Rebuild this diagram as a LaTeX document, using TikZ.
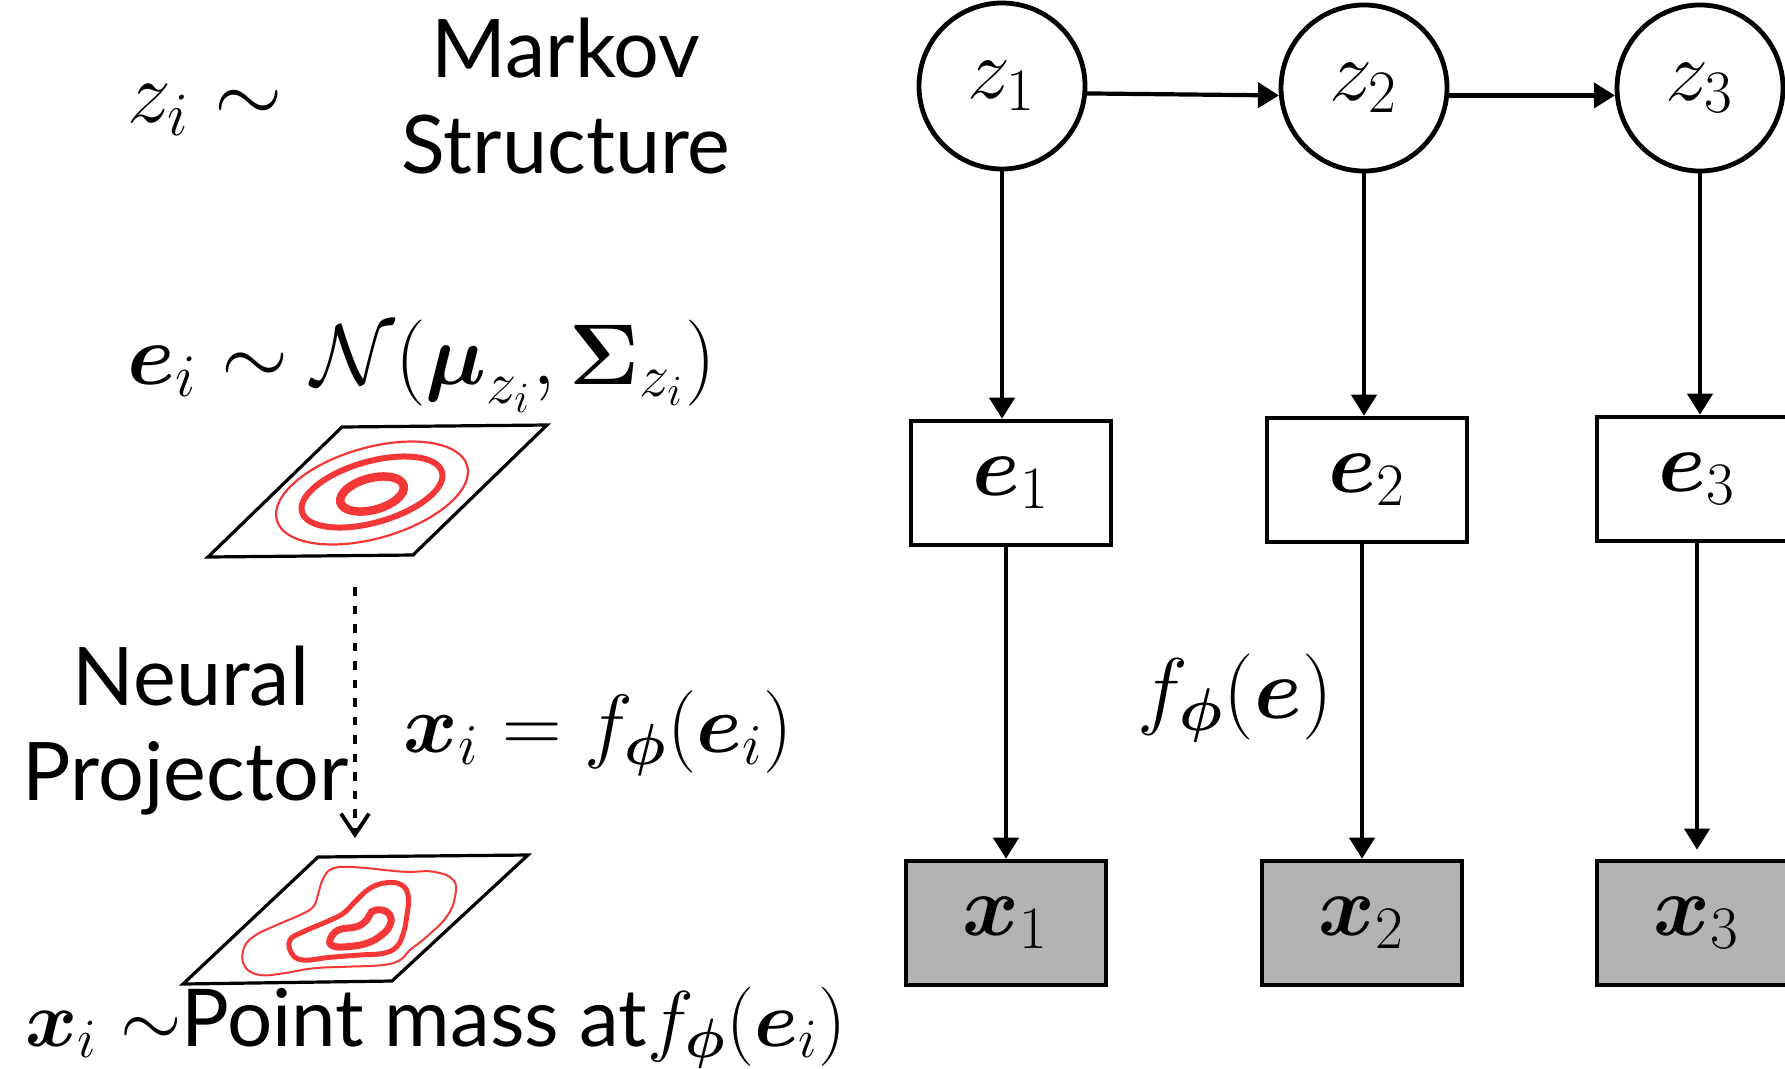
\RequirePackage{fix-cm}
\documentclass[tikz,border=0pt]{standalone}
\usepackage{amsmath}
\usepackage[no-math]{fontspec}
\newfontfamily\gillfont{Lato}
\usetikzlibrary{arrows.meta}

\definecolor{obsgray}{RGB}{179,179,179}
\definecolor{contourred}{RGB}{245,55,55}

\tikzset{
  mathfont/.style={font=\fontsize{24.5}{29}\selectfont},
  latent/.style={circle, draw, line width=0.48mm, minimum size=1.66cm, inner sep=0pt, mathfont},
  embed/.style={rectangle, draw, line width=0.46mm, minimum width=2cm, minimum height=1.24cm, inner sep=0pt, mathfont},
  obs/.style={embed, fill=obsgray},
  arr/.style={line width=0.42mm, -{Triangle[length=2.1mm,width=2.5mm]}},
  plane/.style={line width=0.32mm, line join=miter},
  words/.style={inner sep=0pt, anchor=base, font=\gillfont\fontsize{23}{27}\selectfont},
}

\begin{document}
\begin{tikzpicture}
  \clip (0,0) rectangle (17.85,-10.68);

  %% graphical model
  \node[latent] (z1) at (10.02,-0.86) {$z_1$};
  \node[latent] (z2) at (13.64,-0.88) {$z_2$};
  \node[latent] (z3) at (17.00,-0.88) {$z_3$};

  \node[embed] (e1) at (10.11,-4.83) {$\boldsymbol{e}_1$};
  \node[embed] (e2) at (13.67,-4.80) {$\boldsymbol{e}_2$};
  \node[embed] (e3) at (16.97,-4.79) {$\boldsymbol{e}_3$};

  \node[obs] (x1) at (10.06,-9.23) {$\boldsymbol{x}_1$};
  \node[obs] (x2) at (13.62,-9.23) {$\boldsymbol{x}_2$};
  \node[obs] (x3) at (16.97,-9.23) {$\boldsymbol{x}_3$};

  \draw[arr] (z1.-5) -- (z2.185);
  \draw[arr] (z2.-5) -- (z3.185);
  \foreach \i/\gap in {1/0,2/0,3/0.9} {
    \draw[arr] (z\i) -- (z\i |- e\i.north);
    \draw[arr, shorten >=\gap mm] (e\i.south -| x\i) -- (x\i);
  }

  \node[mathfont, inner sep=0pt, anchor=base west] (flabel) at (11.37,-7.18)
    {$f_{\boldsymbol{\phi}}(\boldsymbol{e})$};

  %% generative story
  \node[font=\fontsize{25}{30}\selectfont, inner sep=0pt, anchor=base west] (zdist) at (1.27,-1.22) {$z_i \sim$};
  \node[words] (markov) at (5.66,-0.77) {Markov};
  \node[words] (structure) at (5.66,-1.73) {Structure};

  \node[mathfont, inner sep=0pt, anchor=base west] (edist) at (1.27,-3.84)
    {$\boldsymbol{e}_i \sim \mathcal{N}(\boldsymbol{\mu}_{z_i}, \boldsymbol{\Sigma}_{z_i})$};

  % gaussian contours
  \draw[plane] (3.42,-4.27) -- (5.47,-4.25) -- (4.13,-5.55) -- (2.08,-5.57) -- cycle;
  \draw[contourred, line width=0.22mm, rotate around={16:(3.72,-4.93)}] (3.72,-4.93) ellipse (0.99 and 0.454);
  \draw[contourred, line width=0.6mm, rotate around={16:(3.72,-4.92)}] (3.72,-4.92) ellipse (0.728 and 0.305);
  \draw[contourred, line width=0.85mm, rotate around={15:(3.72,-4.94)}] (3.72,-4.94) ellipse (0.327 and 0.159);

  \coordinate (projtop) at (3.55,-5.87);
  \coordinate (projbot) at (3.55,-8.38);
  \draw[line width=0.38mm, dash pattern=on 0.85mm off 1mm, -{Straight Barb[length=2.1mm,width=2.8mm]}] (projtop) -- (projbot);

  \node[words] (neural) at (1.91,-7.05) {Neural};
  \node[words] (projector) at (1.86,-8.00) {Projector};

  \node[font=\fontsize{23.5}{28}\selectfont, inner sep=0pt, anchor=base west] (xmap) at (4.03,-7.52)
    {$\boldsymbol{x}_i = f_{\boldsymbol{\phi}}(\boldsymbol{e}_i)$};

  % projected density
  \draw[plane] (3.18,-8.57) -- (5.28,-8.55) -- (3.92,-9.81) -- (1.83,-9.84) -- cycle;
  \draw[contourred, line width=0.2mm] plot[smooth cycle, tension=0.7] coordinates {
    (3.233,-8.783) (3.333,-8.683) (3.567,-8.673) (4.033,-8.717) (4.333,-8.717) (4.533,-8.80)
    (4.55,-8.967) (4.467,-9.167) (4.267,-9.367) (4.10,-9.50) (4.00,-9.60) (3.833,-9.65)
    (3.467,-9.667) (3.133,-9.683) (2.833,-9.733) (2.60,-9.75) (2.45,-9.667) (2.433,-9.50)
    (2.533,-9.367) (2.767,-9.25) (3.00,-9.15) (3.133,-9.067) (3.183,-8.933)};
  \draw[contourred, line width=0.5mm] plot[smooth cycle, tension=0.7] coordinates {
    (2.90,-9.40) (3.033,-9.317) (3.267,-9.217) (3.433,-9.133) (3.55,-9.017) (3.70,-8.883)
    (3.867,-8.827) (4.017,-8.85) (4.083,-8.967) (4.067,-9.167) (4.033,-9.333) (3.967,-9.467)
    (3.833,-9.533) (3.60,-9.55) (3.30,-9.573) (3.033,-9.60) (2.917,-9.533)};
  \draw[contourred, line width=0.7mm] plot[smooth cycle, tension=0.7] coordinates {
    (3.30,-9.40) (3.383,-9.30) (3.567,-9.267) (3.667,-9.20) (3.717,-9.117) (3.817,-9.10)
    (3.90,-9.15) (3.90,-9.25) (3.817,-9.35) (3.667,-9.433) (3.467,-9.467) (3.333,-9.46)};

  \node[font=\fontsize{22.5}{27}\selectfont, inner sep=0pt, anchor=base west] (pointmass) at (0.25,-10.46)
    {$\boldsymbol{x}_i \sim${\gillfont\fontsize{22.7}{27}\selectfont Point mass at}$f_{\boldsymbol{\phi}}(\boldsymbol{e}_i)$};
\end{tikzpicture}
\end{document}
